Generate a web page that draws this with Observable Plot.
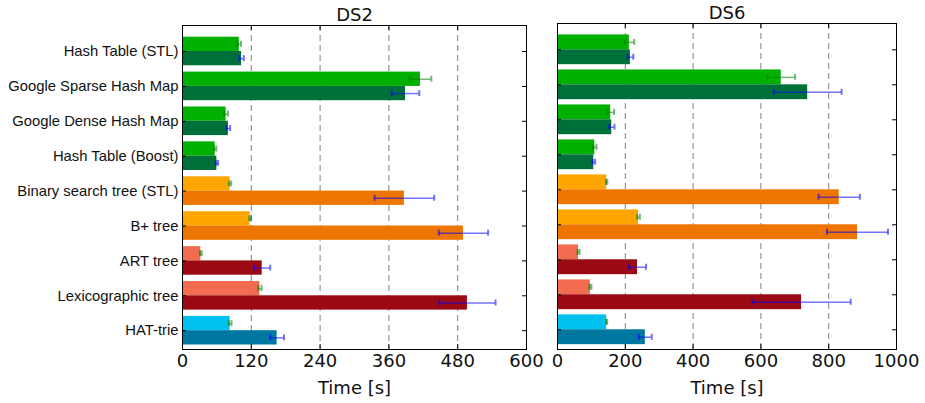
<!DOCTYPE html>
<html>
<head>
<meta charset="utf-8">
<script src="https://cdn.jsdelivr.net/npm/d3@7"></script>
<script src="https://cdn.jsdelivr.net/npm/@observablehq/plot@0.6"></script>
<style>
  body { margin: 0; background: #fff; }
  #wrap { display: flex; width: 925px; height: 403px; }
  #wrap svg { display: block; }
</style>
</head>
<body>
<div id="wrap"></div>
<script>
// ---- data ----
const categories = [
  "Hash Table (STL)", "Google Sparse Hash Map", "Google Dense Hash Map", "Hash Table (Boost)",
  "Binary search tree (STL)", "B+ tree", "ART tree", "Lexicographic tree", "HAT-trie"
];
const families = ["hash", "hash", "hash", "hash", "tree", "tree", "trie", "trie", "hat"];

const ds2Light    = [99, 415, 76, 57, 83, 118, 32, 135, 83];
const ds2LightErr = [3, 19, 3.5, 2, 2, 1.5, 1.5, 3, 2.5];
const ds2Dark     = [103, 389, 80, 60, 387, 490, 139, 497, 165];
const ds2DarkErr  = [4, 24, 3, 2, 52, 43, 14, 49, 12];

const ds6Light    = [212, 660, 157, 110, 145, 239, 62, 97, 145];
const ds6LightErr = [14, 41, 10, 5, 2, 4, 3, 3, 1.5];
const ds6Dark     = [215, 738, 160, 107, 831, 885, 236, 720, 259];
const ds6DarkErr  = [8.5, 100, 8, 4, 61, 90, 25, 145, 19];

const ds2Ticks = [0, 120, 240, 360, 480, 600];
const ds6Ticks = [0, 200, 400, 600, 800, 1000];
const xLabel = "Time [s]";

// ---- styles ----
const lightColor = {hash: "#00b000", tree: "#ffa500", trie: "#f26c50", hat: "#00c0f0"};
const darkColor  = {hash: "#00703a", tree: "#ee7600", trie: "#9b0a12", hat: "#0077a0"};

function rows(light, lightErr, dark, darkErr) {
  return categories.map((c, i) => ({
    cat: c, fam: families[i],
    light: light[i], lightErr: lightErr[i],
    dark: dark[i], darkErr: darkErr[i]
  }));
}

function panel({title, data, ticks, width, marginLeft, marginRight, marginTop, marginBottom, yRange, padding, showLabels}) {
  const H = 403;
  const frameH = H - marginTop - marginBottom;
  const frameW = width - marginLeft - marginRight;
  const n = categories.length;
  const step = (yRange[1] - yRange[0]) / (n - padding + 2 * padding);
  const bw = step * (1 - padding);
  const q = bw / 4;
  const cap = 3;
  const marks = [
    Plot.ruleX(ticks.slice(1, -1), {x: d => d, stroke: "#808080", strokeDasharray: "6,4", strokeWidth: 1}),
    Plot.barX(data, {y: "cat", x: "light", fill: d => lightColor[d.fam], insetBottom: bw / 2}),
    Plot.barX(data, {y: "cat", x: "dark", fill: d => darkColor[d.fam], insetTop: bw / 2}),
    // light-bar error bars (green)
    Plot.ruleY(data, {y: "cat", x1: d => d.light - d.lightErr, x2: d => d.light + d.lightErr, dy: -q,
      stroke: "#008000", strokeOpacity: 0.55, strokeWidth: 1.5}),
    Plot.tickX(data, {y: "cat", x: d => d.light - d.lightErr, insetTop: q - cap, insetBottom: 3 * q - cap,
      stroke: "#008000", strokeOpacity: 0.55, strokeWidth: 2}),
    Plot.tickX(data, {y: "cat", x: d => d.light + d.lightErr, insetTop: q - cap, insetBottom: 3 * q - cap,
      stroke: "#008000", strokeOpacity: 0.55, strokeWidth: 2}),
    // dark-bar error bars (blue)
    Plot.ruleY(data, {y: "cat", x1: d => d.dark - d.darkErr, x2: d => d.dark + d.darkErr, dy: q,
      stroke: "#0000ff", strokeOpacity: 0.55, strokeWidth: 1.5}),
    Plot.tickX(data, {y: "cat", x: d => d.dark - d.darkErr, insetTop: 3 * q - cap, insetBottom: q - cap,
      stroke: "#0000ff", strokeOpacity: 0.55, strokeWidth: 2}),
    Plot.tickX(data, {y: "cat", x: d => d.dark + d.darkErr, insetTop: 3 * q - cap, insetBottom: q - cap,
      stroke: "#0000ff", strokeOpacity: 0.55, strokeWidth: 2}),
    // inward ticks
    Plot.tickX(ticks, {x: d => d, insetTop: frameH - 5, stroke: "#000"}),
    Plot.tickX(ticks, {x: d => d, insetBottom: frameH - 5, stroke: "#000"}),
    Plot.ruleY(categories, {y: d => d, insetRight: frameW - 4, stroke: "#000"}),
    Plot.ruleY(categories, {y: d => d, insetLeft: frameW - 4, stroke: "#000"}),
    Plot.frame({stroke: "#000", strokeWidth: 1}),
    Plot.axisX({ticks, tickSize: 0, tickPadding: 5, tickFormat: d => String(d), fontSize: 18,
      fontFamily: "DejaVu Sans", fill: "#111", label: null}),
    Plot.text([title], {text: d => d, frameAnchor: "top", lineAnchor: "bottom", dy: -5, fontSize: 18,
      fontFamily: "DejaVu Sans", fill: "#111"}),
    Plot.text([xLabel], {text: d => d, frameAnchor: "bottom", lineAnchor: "bottom", dy: 44, fontSize: 18,
      fontFamily: "DejaVu Sans", fill: "#111"})
  ];
  if (showLabels) {
    marks.push(Plot.axisY({tickSize: 0, tickPadding: 4, fontSize: 14.8, fontFamily: "Liberation Sans",
      fill: "#111", label: null}));
  }
  return Plot.plot({
    width, height: H, marginLeft, marginRight, marginTop, marginBottom,
    style: {background: "none", color: "#111", overflow: "visible"},
    x: {domain: [ticks[0], ticks[ticks.length - 1]], label: null},
    y: {domain: categories, range: yRange, padding, round: false, label: null, axis: showLabels ? undefined : null},
    marks
  });
}

const wrap = document.getElementById("wrap");
wrap.append(panel({
  title: "DS2", data: rows(ds2Light, ds2LightErr, ds2Dark, ds2DarkErr), ticks: ds2Ticks,
  width: 540, marginLeft: 182, marginRight: 14, marginTop: 25, marginBottom: 54,
  yRange: [30.4, 350.8], padding: 0.18, showLabels: true
}));
wrap.append(panel({
  title: "DS6", data: rows(ds6Light, ds6LightErr, ds6Dark, ds6DarkErr), ticks: ds6Ticks,
  width: 385, marginLeft: 17, marginRight: 29, marginTop: 23, marginBottom: 54,
  yRange: [29.2, 349.4], padding: 0.15, showLabels: false
}));
</script>
</body>
</html>
